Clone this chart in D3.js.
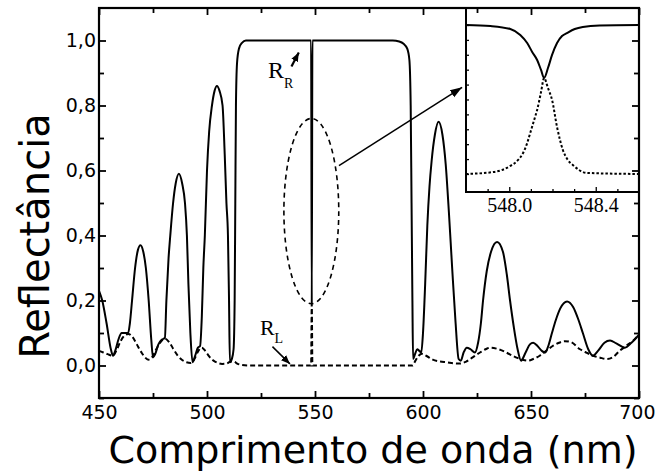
<!DOCTYPE html>
<html><head><meta charset="utf-8">
<script src="https://cdn.jsdelivr.net/npm/d3@7"></script>
<style>body{margin:0;background:#fff} svg{display:block}</style>
</head><body><svg id="c" width="656" height="475"></svg>
<script>
// ---------- data ----------
const rrSeries = [
[450,0.23],[451.5,0.2],[453.5,0.13],[455.5,0.05],[456.5,0.03],[457.5,0.045],[459,0.08],[460.5,0.1],[462,0.1],[463.5,0.1],
[464.3,0.13],[465.3,0.2],[466.7,0.3],[468,0.355],[469.2,0.37],[470.5,0.35],[471.7,0.3],[473,0.2],[474.2,0.08],[475,0.025],
[476,0.035],[477.5,0.065],[479.2,0.08],[480.5,0.085],[481.2,0.2],[482.2,0.33],[483,0.4],[484.3,0.5],[485.5,0.56],[487,0.59],
[488.5,0.56],[489.8,0.5],[490.7,0.4],[491.4,0.25],[492.3,0.1],[493.3,0.01],[494.5,0.03],[495.8,0.055],[496.8,0.06],[497.6,0.15],
[498.3,0.3],[499,0.4],[500,0.6],[501,0.72],[502.3,0.8],[503.5,0.845],[504.6,0.86],[505.8,0.845],[507.2,0.8],[508.2,0.65],
[509,0.5],[509.7,0.4],[510.2,0.2],[510.6,0.01],[511.5,0.02],[512.3,0.05],[512.8,0.2],[513.1,0.5],[513.4,0.8],[513.9,0.93],
[514.8,0.975],[516.2,0.993],[518,1.0],[548.2,1.0],[548.5,0.19],[548.8,1.0],[586,1.0],[589,0.997],[591,0.99],[592.7,0.975],
[593.7,0.94],[594.3,0.8],[594.7,0.5],[595.1,0.2],[595.4,0.02],[596.3,0.035],[597.3,0.05],[598.3,0.045],[599.2,0.04],[600,0.1],
[601,0.25],[602,0.43],[603,0.55],[604,0.63],[605.5,0.71],[607.2,0.75],[609,0.71],[610.5,0.62],[612,0.47],[613.5,0.3],
[615,0.14],[616.5,0.02],[617.5,0.015],[618.8,0.04],[620.3,0.055],[622,0.05],[624,0.04],[625.5,0.07],[626.8,0.13],[627.8,0.2],
[629.5,0.29],[631.5,0.35],[634.3,0.38],[637,0.35],[638.8,0.28],[640.3,0.2],[642,0.12],[643.8,0.05],[645.4,0.015],[647.5,0.04],
[649.5,0.065],[651,0.07],[653,0.06],[655,0.045],[656.5,0.04],[658,0.06],[659.7,0.1],[661.5,0.14],[663.5,0.175],[666.7,0.197],
[669.5,0.18],[672,0.14],[674,0.1],[676.5,0.05],[678.7,0.03],[681,0.045],[684,0.07],[686.6,0.077],[689.5,0.068],[693.5,0.055],
[696.5,0.07],[700,0.095]
];
const rlSeries = [
[450,0.045],[452,0.04],[454,0.035],[456.5,0.03],[458,0.045],[460,0.075],[462,0.093],[463.6,0.097],[465.5,0.088],[467.5,0.065],
[469.5,0.042],[471.3,0.025],[472.8,0.018],[474.5,0.025],[476.5,0.05],[478.5,0.072],[480.5,0.083],[482.5,0.072],[484.5,0.05],[486.5,0.03],
[488.5,0.017],[490.5,0.01],[492.5,0.008],[494.2,0.02],[496,0.045],[497.6,0.055],[499.2,0.045],[501,0.028],[503,0.015],[505,0.008],
[507,0.005],[509,0.006],[511,0.012],[512.5,0.012],[514,0.006],[516,0.002],[520,0.0],[548.2,0.0],[548.5,0.19],[548.8,0.0],
[595.2,0.0],[596.5,0.015],[598,0.03],[599.5,0.036],[601.5,0.03],[604.5,0.018],[608,0.012],[611,0.01],[614,0.007],[617,0.006],
[620,0.012],[623,0.025],[626.4,0.04],[629,0.05],[631,0.055],[634,0.052],[637,0.045],[640,0.035],[643,0.025],[646,0.018],
[648.6,0.015],[651,0.02],[654,0.03],[657,0.045],[660,0.06],[663,0.07],[665.7,0.075],[668.5,0.072],[672.7,0.05],[675.5,0.04],
[678.7,0.03],[682,0.024],[685,0.02],[688,0.026],[691,0.045],[694,0.06],[697,0.075],[700,0.095]
];
const insetRR = [
[547.8,1.0],[547.913,0.993],[548.005,0.973],[548.051,0.933],[548.083,0.879],[548.106,0.819],[548.129,0.765],[548.147,0.698],
[548.161,0.644],[548.179,0.711],[548.198,0.799],[548.221,0.879],[548.244,0.926],[548.267,0.946],[548.303,0.973],[548.34,0.987],
[548.418,0.997],[548.6,1.0]
];
const insetRL = [
[547.8,0.0],[547.926,0.013],[548.005,0.054],[548.041,0.094],[548.064,0.141],[548.083,0.208],[548.097,0.275],[548.115,0.362],
[548.129,0.43],[548.147,0.55],[548.161,0.644],[548.179,0.577],[548.198,0.497],[548.221,0.315],[548.248,0.161],[548.271,0.094],
[548.294,0.06],[548.359,0.007],[548.6,0.0]
];
const xMajorTicks = [450,500,550,600,650,700];
const xMinorTicks = [475,525,575,625,675];
const yMajorTicks = [0,0.2,0.4,0.6,0.8,1.0];
const yTickLabels = ["0,0","0,2","0,4","0,6","0,8","1,0"];
const yMinorTicks = [-0.1,0.1,0.3,0.5,0.7,0.9];
const insetXTicks = [548.0,548.4];
const insetXLabels = ["548.0","548.4"];
const insetMinorX = [547.9,548.1,548.2,548.3,548.5];
const insetYTicks = [0,0.1,0.2,0.3,0.4,0.5,0.6,0.7,0.8,0.9,1.0];

// ---------- layout ----------
const svg = d3.select("#c");
const L = 99, R = 639, T = 8, B = 398;
const x = d3.scaleLinear().domain([450,700]).range([L,R]);
const y = d3.scaleLinear().domain([-0.1,1.1]).range([B,T]);

svg.append("defs").append("clipPath").attr("id","clipMain")
  .append("rect").attr("x",L).attr("y",T).attr("width",R-L).attr("height",B-T);
const defs = svg.select("defs");
defs.append("marker").attr("id","ah").attr("viewBox","0 0 10 10").attr("refX",10).attr("refY",5)
  .attr("markerWidth",12).attr("markerHeight",12).attr("markerUnits","userSpaceOnUse").attr("orient","auto")
  .append("path").attr("d","M0,1.5 L10,5 L0,8.5 Z").attr("fill","#000");
defs.append("marker").attr("id","ahs").attr("viewBox","0 0 10 10").attr("refX",10).attr("refY",5)
  .attr("markerWidth",9).attr("markerHeight",9).attr("markerUnits","userSpaceOnUse").attr("orient","auto")
  .append("path").attr("d","M0,1 L10,5 L0,9 Z").attr("fill","#000");

const line = d3.line().x(d=>x(d[0])).y(d=>y(d[1])).curve(d3.curveMonotoneX);
const plot = svg.append("g").attr("clip-path","url(#clipMain)");
plot.append("path").datum(rlSeries).attr("d",line).attr("fill","none")
  .attr("stroke","#000").attr("stroke-width",2).attr("stroke-dasharray","5,3");
plot.append("path").datum(rrSeries).attr("d",line).attr("fill","none")
  .attr("stroke","#000").attr("stroke-width",2);

// dashed ellipse annotation
svg.append("ellipse").attr("cx",x(548.3)).attr("cy",y(0.475))
  .attr("rx",x(561)-x(548.3)).attr("ry",y(0.19)-y(0.475))
  .attr("fill","none").attr("stroke","#000").attr("stroke-width",1.6).attr("stroke-dasharray","5,4");
// arrow to inset
svg.append("line").attr("x1",x(561.1)).attr("y1",y(0.615)).attr("x2",x(618.1)).attr("y2",y(0.856))
  .attr("stroke","#000").attr("stroke-width",1.5).attr("marker-end","url(#ah)");

// labels R_R and R_L
const serif = "'Liberation Serif','Times New Roman',serif";
const lblR = svg.append("text").attr("x",x(528.2)).attr("y",y(0.885)).attr("font-family",serif).attr("font-size",24);
lblR.append("tspan").text("R");
lblR.append("tspan").attr("font-size",14).attr("dy",10).text("R");
svg.append("path").attr("d",`M${x(539.1)},${y(0.92)} L${x(542.5)},${y(0.963)}`)
  .attr("stroke","#000").attr("stroke-width",2.2).attr("marker-end","url(#ahs)");
const lblL = svg.append("text").attr("x",x(524.5)).attr("y",y(0.095)).attr("font-family",serif).attr("font-size",22);
lblL.append("tspan").text("R");
lblL.append("tspan").attr("font-size",14).attr("dy",8).text("L");
svg.append("line").attr("x1",x(530.3)).attr("y1",y(0.058)).attr("x2",x(538.4)).attr("y2",y(0.005))
  .attr("stroke","#000").attr("stroke-width",1.5).attr("marker-end","url(#ahs)");

// ---------- inset ----------
const iL = 466, iR = 639, iT = 8, iB = 192;
const xi = d3.scaleLinear().domain([547.8,548.6]).range([iL,iR]);
const yi = d3.scaleLinear().domain([-0.121,1.114]).range([iB,iT]);
svg.append("rect").attr("x",iL).attr("y",iT).attr("width",iR-iL).attr("height",iB-iT)
  .attr("fill","#fff").attr("stroke","#000").attr("stroke-width",2);
const lineI = d3.line().x(d=>xi(d[0])).y(d=>yi(d[1])).curve(d3.curveMonotoneX);
svg.append("path").datum(insetRL).attr("d",lineI).attr("fill","none")
  .attr("stroke","#000").attr("stroke-width",2).attr("stroke-dasharray","2.5,2");
svg.append("path").datum(insetRR).attr("d",lineI).attr("fill","none")
  .attr("stroke","#000").attr("stroke-width",2);
const gIx = svg.append("g").attr("transform",`translate(0,${iB})`)
  .call(d3.axisBottom(xi).tickValues(insetXTicks).tickSize(-5).tickPadding(6)
    .tickFormat((d,i)=>insetXLabels[i]));
const gIxm = svg.append("g").attr("transform",`translate(0,${iB})`)
  .call(d3.axisBottom(xi).tickValues(insetMinorX).tickSize(-3).tickFormat(""));
const gIy = svg.append("g").attr("transform",`translate(${iL},0)`)
  .call(d3.axisLeft(yi).tickValues(insetYTicks).tickSize(-3).tickFormat(""));
[gIx,gIxm,gIy].forEach(g=>{g.select(".domain").remove(); g.selectAll("line").attr("stroke-width",1.3);});
gIx.selectAll("text").attr("font-family",serif).attr("font-size",20).attr("fill","#000");

// ---------- main axes ----------
const sans = "'DejaVu Sans',sans-serif";
const gx = svg.append("g").attr("transform",`translate(0,${B})`)
  .call(d3.axisBottom(x).tickValues(xMajorTicks).tickSize(-7).tickPadding(8));
const gxm = svg.append("g").attr("transform",`translate(0,${B})`)
  .call(d3.axisBottom(x).tickValues(xMinorTicks).tickSize(-5).tickFormat(""));
const gxt = svg.append("g").attr("transform",`translate(0,${T})`)
  .call(d3.axisTop(x).tickValues(xMajorTicks).tickSize(-7).tickFormat(""));
const gxtm = svg.append("g").attr("transform",`translate(0,${T})`)
  .call(d3.axisTop(x).tickValues(xMinorTicks).tickSize(-5).tickFormat(""));
const gy = svg.append("g").attr("transform",`translate(${L},0)`)
  .call(d3.axisLeft(y).tickValues(yMajorTicks).tickSize(-7).tickPadding(3)
    .tickFormat((d,i)=>yTickLabels[i]));
const gym = svg.append("g").attr("transform",`translate(${L},0)`)
  .call(d3.axisLeft(y).tickValues(yMinorTicks).tickSize(-5).tickFormat(""));
const gyr = svg.append("g").attr("transform",`translate(${R},0)`)
  .call(d3.axisRight(y).tickValues(yMajorTicks).tickSize(-7).tickFormat(""));
const gyrm = svg.append("g").attr("transform",`translate(${R},0)`)
  .call(d3.axisRight(y).tickValues(yMinorTicks).tickSize(-5).tickFormat(""));
[gx,gxm,gxt,gxtm,gy,gym,gyr,gyrm].forEach(g=>{g.select(".domain").remove(); g.selectAll("line").attr("stroke-width",1.8);});
[gx,gy].forEach(g=>g.selectAll("text").attr("font-family",sans).attr("font-size",19).attr("fill","#000"));
// keep the last x label inside the window
gx.selectAll("text").filter(d=>d===700).attr("text-anchor","end").attr("x",16);

svg.append("rect").attr("x",L).attr("y",T).attr("width",R-L).attr("height",B-T)
  .attr("fill","none").attr("stroke","#000").attr("stroke-width",2.2);

// axis titles
svg.append("text").attr("x",373).attr("y",463).attr("text-anchor","middle")
  .attr("font-family",sans).attr("font-size",38).text("Comprimento de onda (nm)");
svg.append("text").attr("transform","translate(49,236) rotate(-90)").attr("text-anchor","middle")
  .attr("font-family",sans).attr("font-size",40).text("Reflectância");
</script></body></html>
